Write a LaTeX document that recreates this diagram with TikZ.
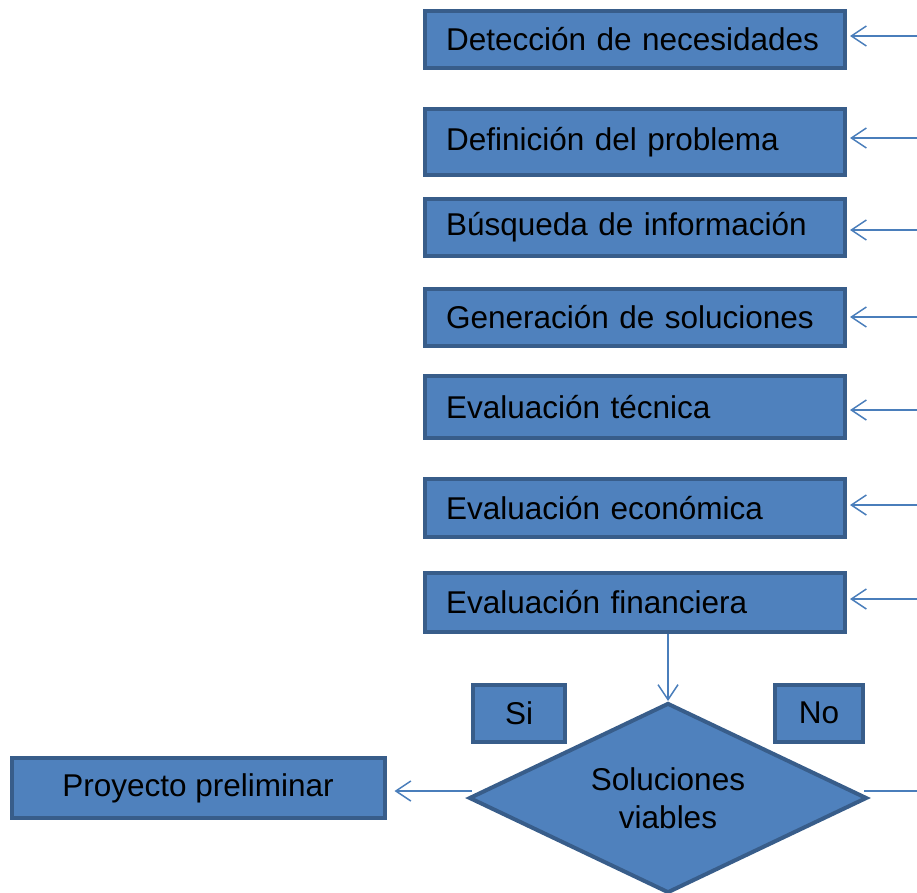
\documentclass[tikz,border=0pt]{standalone}
\usepackage{fontspec}
\setmainfont{Liberation Sans}
\usetikzlibrary{arrows.meta,shapes.geometric}
\definecolor{relleno}{HTML}{4F81BD}
\definecolor{borde}{HTML}{385D8A}
\definecolor{linea}{HTML}{4A7EBB}
\begin{document}
\begin{tikzpicture}[x=1pt,y=-1pt,
    caja/.style={draw=borde,fill=relleno,line width=4pt,minimum width=420pt,minimum height=57pt,
        text width=378pt,inner xsep=21pt,align=left,font=\fontsize{31.5}{38}\selectfont},
    cuadro/.style={draw=borde,fill=relleno,line width=4pt,minimum height=57pt,inner sep=0pt,
        align=center,font=\fontsize{31.5}{38}\selectfont},
    flecha/.style={draw=linea,line width=1.5pt,-{Straight Barb[length=15pt,width=20pt]},shorten >=3pt}]
    \useasboundingbox (0,0) rectangle (917,892);
    \node[caja] (det) at (635,39) {Detección de necesidades};
    \node[caja,minimum height=66pt] (def) at (635,142) {Definición del problema};
    \node[caja] (bus) at (635,227) {Búsqueda de información};
    \node[caja] (gen) at (635,317) {Generación de soluciones};
    \node[caja,minimum height=62pt] (tec) at (635,407) {Evaluación técnica};
    \node[caja,minimum height=58pt] (eco) at (635,508) {Evaluación económica};
    \node[caja,minimum height=59pt] (fin) at (635,602) {Evaluación financiera};
    \node[cuadro,diamond,aspect=2.1,minimum width=398pt,minimum height=190pt] (sol) at (668,798) {Soluciones\\viables};
    \node[cuadro,minimum width=92pt] (si) at (519,713) {Si};
    \node[cuadro,minimum width=88pt] (no) at (819,713) {No};
    \node[cuadro,minimum width=373pt,minimum height=60pt] (pro) at (198,788) {Proyecto preliminar};
    \coordinate (r1) at (917,36);
    \coordinate (r2) at (917,138);
    \coordinate (r3) at (917,230);
    \coordinate (r4) at (917,317);
    \coordinate (r5) at (917,410);
    \coordinate (r6) at (917,505);
    \coordinate (r7) at (917,599);
    \coordinate (r8) at (917,791);
    \draw[flecha] (r1) -- (r1 -| det.east);
    \draw[flecha] (r2) -- (r2 -| def.east);
    \draw[flecha] (r3) -- (r3 -| bus.east);
    \draw[flecha] (r4) -- (r4 -| gen.east);
    \draw[flecha] (r5) -- (r5 -| tec.east);
    \draw[flecha] (r6) -- (r6 -| eco.east);
    \draw[flecha] (r7) -- (r7 -| fin.east);
    \draw[flecha,shorten >=0pt] (sol.north |- fin.south) -- (sol.north);
    \draw[flecha] ([xshift=5pt,yshift=7pt]sol.west) -- ([xshift=5pt,yshift=7pt]sol.west -| pro.east);
    \draw[draw=linea,line width=1.5pt] ([xshift=-5pt,yshift=7pt]sol.east) -- (r8);
\end{tikzpicture}
\end{document}
